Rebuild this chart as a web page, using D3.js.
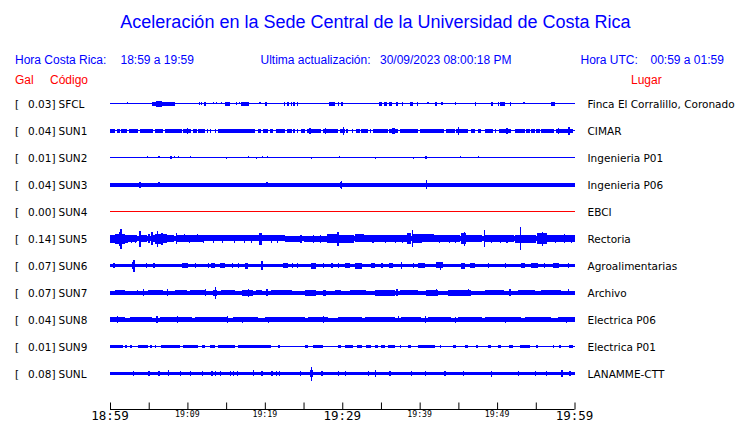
<!DOCTYPE html>
<html><head><meta charset="utf-8">
<script src="https://cdn.jsdelivr.net/npm/d3@7"></script>
<style>html,body{margin:0;padding:0;background:#fff}svg{display:block}</style>
</head><body><svg id="c" width="740" height="423"></svg>
<script>
// ---------------- DATA ----------------
const title = "Aceleración en la Sede Central de la Universidad de Costa Rica";
const localWindow = "18:59 a 19:59";
const utcWindow = "00:59 a 01:59";
const lastUpdate = "30/09/2023 08:00:18 PM";

const codes = ["SFCL","SUN1","SUN2","SUN3","SUN4","SUN5","SUN6","SUN7","SUN8","SUN9","SUNL"];
const peakGal = [0.03,0.04,0.01,0.04,0.00,0.14,0.07,0.07,0.04,0.01,0.08];
const places = ["Finca El Corralillo, Coronado","CIMAR","Ingenieria P01","Ingenieria P06","EBCI","Rectoria",
  "Agroalimentarias","Archivo","Electrica P06","Electrica P01","LANAMME-CTT"];

// background noise half-amplitude of each trace (relative units)
const baseAmp = [0.5,0.5,0.5,2,0.5,2.5,1.5,2,2,0.5,1.5];

// bursts: [start minute, end minute, half-amplitude]
const evSFCL = [[2.2,2.35,1.2],[5.4,6.0,2],[6.0,6.7,3],[6.7,8.4,2],[11.5,11.65,1.5],[11.7,11.85,1.5],[12.1,12.4,2],[13.3,13.45,1.2],[13.7,13.85,1.2],[14.3,14.45,1.2],[14.8,15.5,2],[16.3,16.45,1.5],[16.6,16.75,1.2],[16.9,17.9,2],[19.3,19.45,1.2],[20.0,20.3,2],[22.5,22.65,2],[22.8,23.1,2],[23.4,23.55,2],[23.7,23.85,2],[24.1,24.25,2],[28.3,29.0,2],[29.4,29.55,2],[29.9,30.05,2],[34.8,35.1,2],[35.4,35.8,2],[36.1,36.4,2],[36.9,37.2,2],[37.7,37.85,2],[38.7,39.1,2],[39.6,39.75,2],[41.0,41.15,1.2],[42.0,42.2,2],[42.8,42.95,1.5],[44.6,44.75,1.5],[47.1,47.3,2],[49.2,49.5,2],[50.1,50.25,2],[50.4,51.0,2],[51.7,51.85,2],[53.4,53.55,1.2],[57.0,57.5,2]];
const evSUN1 = [[0,0.65,2],[0.86,1.3,2],[1.4,2.15,2],[2.4,3.65,2],[3.9,5.6,2],[5.8,6.9,2],[7.1,9.25,2],[9.45,10.5,2],[10.75,11.2,2],[11.4,12.25,2],[12.5,12.7,2],[12.9,13.1,2],[13.55,13.75,2],[14,18.7,2],[19.15,19.55,2],[19.8,20.4,2],[20.65,21.1,2],[21.5,22.6,2],[22.9,23.45,2],[23.65,23.85,2],[24.1,24.3,2],[24.7,25.15,2],[25.4,27.3,2],[27.5,29.45,2],[29.7,30.3,2],[30.5,30.75,2],[31.2,31.4,2],[31.8,32.25,2],[32.45,33.3,2],[33.55,33.75,2],[34,35.9,2],[36.1,37.2,2],[37.4,39.8,2],[40,43.2,2],[43.45,44.5,2],[44.7,46.25,2],[46.65,47.1,2],[47.5,47.95,2],[48.4,49.45,2],[49.7,49.9,2],[50.3,51.8,2],[52.25,53.55,2],[53.75,54.2,2],[54.4,54.85,2],[55.05,55.5,2],[55.7,57.4,2],[57.65,59.8,2],
  [9.9,10.05,3],[25.7,26.0,3],[27.75,27.9,3],[30.1,30.25,4],[36.45,36.8,3],[44.95,45.1,4],[51.2,51.35,3],[57.85,58.0,3],[59.2,59.4,4]];
const evSUN2 = [[4.8,4.95,1.2],[6.25,6.4,1.2],[7.75,7.95,1.5],[8.3,8.45,1.2],[8.8,8.95,1.2],[10.3,10.45,1.2],[14.97,15.1,1],[17.85,18.0,1.2],[18.8,18.95,1],[19.65,19.8,1.2],[20.3,20.45,1.2],[26.0,26.15,1],[29.6,29.75,1.2],[34.2,34.35,1],[39.15,39.3,1],[40.7,40.95,1.5],[45.25,45.4,1.2],[47.5,47.65,1.2]];
const evSUN3 = [[3.8,3.95,3],[6.25,6.4,2.5],[20.2,20.35,2.5],[29.7,30.0,3],[29.8,29.95,4],[40.8,40.95,4.5]];
const evSUN4 = [];
const evSUN5 = [[0,0.6,4],[0.6,1.2,5],[1.2,1.4,7],[1.35,1.5,10],[1.5,2.0,5],[2.0,2.3,4],[2.3,3.5,3.3],[2.7,2.85,4],[3.2,3.35,4],[3.8,3.95,8],[3.9,4.8,3.5],[4.9,5.2,4.5],[5.35,5.5,6.5],[5.5,5.8,3.5],[5.8,6.1,5],[6.1,6.25,8],[6.2,6.6,5],[6.6,6.8,6],[6.8,7.3,4.5],[7.3,8.3,3.3],[8.5,8.65,5.5],[8.6,12.2,3.4],[9.5,9.65,4.2],[10.2,10.35,4],[11.2,11.35,4.2],[12.0,12.15,4],[12.2,19.2,3.1],[13.3,13.45,4],[14.5,14.65,4],[16.0,16.15,4],[17.3,17.45,4],[18.2,18.35,4],[19.3,19.6,6],[19.6,22.6,3.2],[20.8,20.95,4],[21.6,21.75,3.8],[22.6,24.5,2.8],[24.6,24.8,4],[25,28,3],[26.2,26.35,4],[27.1,27.25,3.8],[28,29.5,4.5],[29.3,29.6,7],[29.6,31.5,4],[31.6,32.8,4.2],[32.8,38.3,3.3],[33.9,34.05,4],[35.5,35.65,4],[36.8,36.95,4],[37.7,37.85,4],[38.3,38.9,5.5],[38.95,39.1,8.5],[39.1,40.3,4.5],[40.3,41.8,4.2],[41.8,45.2,3.3],[42.5,42.65,4],[43.8,43.95,4],[44.6,44.75,4],[45.3,46.0,5.5],[45.7,45.85,7],[46.0,48.0,3.3],[48.3,48.45,8.5],[48.4,52.2,3.3],[49.2,49.35,4],[50.4,50.55,4],[51.2,51.35,3.8],[52.3,53.0,4],[53.0,53.15,11.5],[53.1,55.0,4],[55.2,56.5,5.5],[55.8,55.95,7],[56.5,60,3.3],[57.5,57.65,4],[58.6,58.75,4.5],[59.5,59.65,4]];
const evSUN6 = [[0.45,0.65,2.5],[2.8,2.95,3.5],[3.0,3.2,6],[4.6,4.75,2.5],[5.6,5.8,2.5],[9.25,10.1,2.5],[10.95,11.1,2.5],[12.7,12.85,2.5],[13.1,13.55,2.5],[14.2,14.85,2.5],[15.7,15.9,2.5],[16.55,16.7,2.5],[17.4,17.85,3],[19.55,19.7,4.3],[22.35,23.0,2.5],[23.45,23.6,2.5],[24.1,24.25,2.5],[26.0,26.65,3],[27.5,27.65,2.5],[28.6,28.75,2.5],[29.45,29.6,2.5],[30.3,31.0,2.5],[31.6,32.5,3],[33.75,34.2,2.5],[35.05,35.2,2.5],[36.1,36.55,2.5],[37.6,37.75,3.5],[39.15,39.3,2.5],[39.8,40.65,2.5],[42.15,43.0,3.2],[42.6,42.75,4],[45.4,45.8,3],[46.45,47.1,2.5],[48.8,48.95,2.5],[51.0,51.15,2.5],[53.1,53.55,2.5],[54.4,55.25,2.5],[56.1,56.25,2.5],[57.2,58.05,2.5],[59.15,59.3,2.5]];
const evSUN7 = [[0.65,1.95,2.7],[3.45,3.65,2.7],[4.3,4.45,3.5],[4.95,6.9,2.7],[7.3,7.45,3.5],[8.4,9.9,2.7],[10.3,12.25,2.7],[12.25,12.4,3.5],[13.3,13.8,3],[13.5,13.65,6],[14.4,16.1,2.7],[17.0,18.5,3],[17.85,18.0,4],[18.9,19.6,2.7],[20.2,20.35,3.5],[20.85,23.45,2.7],[25.15,26.65,3],[27.5,27.95,3],[29.05,29.9,2.7],[30.95,33.1,2.7],[34.2,36.75,2.8],[37.0,37.15,3.5],[37.4,39.8,2.7],[40.85,42.35,3],[42.15,42.3,3.7],[43.65,46.65,2.8],[46.25,46.4,3.5],[48.4,50.95,2.7],[51.6,51.75,3.5],[52.7,54.85,2.7],[55.7,58.3,2.7],[59.15,59.3,3.2]];
const evSUN8 = [[0,1.95,2.5],[0.85,1.0,3.3],[2.6,5.4,2.5],[6.0,6.15,3.3],[6.45,10.55,2.5],[8.6,8.75,3.3],[10.95,15.25,2.5],[15.05,15.2,3.3],[15.9,19.15,2.5],[17.0,17.15,3],[20.0,25.15,2.5],[20.45,20.6,3],[25.6,28.2,2.5],[27.5,27.65,3.3],[29.45,32.5,2.5],[32.9,36.75,2.5],[37.2,37.35,3.2],[37.6,40.2,2.5],[40.65,40.8,3.3],[41.1,44.1,2.5],[44.5,44.65,3],[44.95,48,2.5],[48.4,53.1,2.5],[51.0,51.15,3],[53.55,57,2.5],[57.85,60,2.5],[58.9,59.05,3]];
const evSUN9 = [[0,1.7,1.4],[1.95,2.15,1.4],[2.6,2.8,1.4],[3.65,4.95,1.4],[5.15,5.4,1.4],[5.8,6.0,1.4],[6.65,9.05,1.4],[9.45,11.4,1.4],[11.85,12.25,1.4],[12.9,13.55,1.4],[14.0,16.1,1.4],[16.55,20.85,1.4],[21.7,21.95,1.4],[25.15,25.6,1.4],[26.25,27.5,1.4],[29.45,29.9,1.4],[30.3,31.4,1.4],[31.85,32.5,1.4],[33.1,33.75,1.4],[34.2,34.6,1.4],[35.05,35.5,1.4],[35.9,36.75,1.4],[37.4,37.65,1.4],[38.5,38.9,1.4],[39.8,41.95,1.4],[42.6,42.8,1.4],[44.3,44.75,1.4],[45.8,46.25,1.4],[47.3,47.5,1.4],[48.8,49.25,1.4],[50.1,50.55,1.4],[51.6,52.05,1.4],[52.9,54.2,1.4],[55.05,55.25,1.4],[57.2,57.4,1.4],[58.05,58.2,1.4],[59.35,59.8,1.4]];
const evSUNL = [[3.0,3.15,2.5],[4.95,5.15,2.5],[6.25,6.4,2.5],[7.5,7.65,3.2],[9.0,9.15,2.5],[10.3,10.45,2.5],[11.85,12.0,2.5],[13.1,13.25,2.5],[13.55,13.7,2.5],[14.2,14.35,2.5],[15.5,15.65,2.5],[15.9,16.05,2.5],[16.4,16.55,2.5],[18.5,18.65,3.2],[19.55,19.7,2.5],[20.85,21.0,2.5],[21.4,21.55,2.5],[21.8,21.95,2.5],[24.5,24.65,2.5],[25.8,26.25,3.5],[25.95,26.1,7],[27.3,27.45,2.5],[29.45,29.6,2.5],[30.3,30.45,2.5],[33.35,33.5,2.5],[34.2,34.35,3.5],[36.1,36.25,2.5],[38.9,39.05,2.5],[40.65,40.8,2.5],[43.2,43.35,2.5],[45.6,45.75,2.5],[49.25,49.4,3],[52.7,52.85,2.5],[54.85,55.0,2.5],[56.35,56.5,2.5],[58.3,58.45,3.5],[59.35,59.5,2.5]];
const events = [evSFCL,evSUN1,evSUN2,evSUN3,evSUN4,evSUN5,evSUN6,evSUN7,evSUN8,evSUN9,evSUNL];

// time axis (minutes after 18:59)
const tickMinutes = [0,5,10,15,20,25,30,35,40,45,50,55,60];
const tickLabels = ["18:59","","19:09","","19:19","","19:29","","19:39","","19:49","","19:59"];
const majorLabels = ["18:59","19:29","19:59"];

// ---------------- DRAW ----------------
const svg = d3.select("#c");
const BLUE = "#0000ff", RED = "#ff0000";
const HF = "'Liberation Sans', Arial, sans-serif";
const LF = "'DejaVu Sans', sans-serif";
const MF = "'DejaVu Sans Mono', monospace";

const x = d3.scaleLinear().domain([0, 60]).range([110, 574.5]);
const y = d3.scalePoint().domain(codes).range([103.5, 373.5]);
const amp = d3.scaleLinear().domain([0, 10]).range([0, 10]);

svg.append("text").attr("x", 375.5).attr("y", 28).attr("text-anchor", "middle")
  .attr("font-family", HF).attr("font-size", 18).attr("fill", BLUE).text(title);

const hdr = svg.append("g").attr("font-family", HF).attr("font-size", 12).attr("fill", BLUE);
hdr.append("text").attr("x", 15).attr("y", 64).text("Hora Costa Rica:");
hdr.append("text").attr("x", 120.5).attr("y", 64).text(localWindow);
hdr.append("text").attr("x", 260.5).attr("y", 64).text("Ultima actualización:");
hdr.append("text").attr("x", 380).attr("y", 64).text(lastUpdate);
hdr.append("text").attr("x", 580.5).attr("y", 64).text("Hora UTC:");
hdr.append("text").attr("x", 650.5).attr("y", 64).text(utcWindow);

const sub = svg.append("g").attr("font-family", HF).attr("font-size", 12).attr("fill", RED);
sub.append("text").attr("x", 15).attr("y", 84).text("Gal");
sub.append("text").attr("x", 50).attr("y", 84).text("Código");
sub.append("text").attr("x", 631).attr("y", 84).text("Lugar");

const rows = svg.append("g").selectAll("g").data(codes).join("g");
rows.each(function(code, i) {
  const g = d3.select(this);
  const yc = y(code);
  const col = peakGal[i] === 0 ? RED : BLUE;
  const lab = g.append("g").attr("font-family", LF).attr("font-size", 10.5).attr("fill", "#000");
  lab.append("text").attr("x", 15).attr("y", yc + 4).text("[");
  lab.append("text").attr("x", 55.5).attr("y", yc + 4).attr("text-anchor", "end").text(peakGal[i].toFixed(2) + "]");
  lab.append("text").attr("x", 58.5).attr("y", yc + 4).text(code);
  lab.append("text").attr("x", 587.5).attr("y", yc + 4).text(places[i]);

  const segs = [[0, 60, baseAmp[i]]].concat(events[i]);
  g.append("g").attr("fill", col).attr("shape-rendering", "crispEdges")
    .selectAll("rect").data(segs).join("rect")
    .attr("x", d => Math.round(x(d[0])))
    .attr("width", d => Math.max(1, Math.round(x(d[1])) - Math.round(x(d[0]))))
    .attr("y", d => Math.round(yc - amp(d[2])))
    .attr("height", d => Math.max(1, Math.round(2 * amp(d[2]))));
});

// axis
const axis = d3.axisTop(x).tickValues(tickMinutes).tickSize(7).tickFormat("");
const ax = svg.append("g").attr("transform", "translate(0,409.5)").call(axis);
ax.select(".domain").attr("stroke", "#000").attr("d", `M${x(0)},0H${x(60)}`);
ax.selectAll(".tick line").attr("stroke", "#000");
svg.append("g").selectAll("text").data(tickMinutes).join("text")
  .attr("x", d => x(d))
  .attr("y", (d, i) => majorLabels.includes(tickLabels[i]) ? 420 : 417)
  .attr("text-anchor", "middle")
  .attr("font-family", MF)
  .attr("font-size", (d, i) => majorLabels.includes(tickLabels[i]) ? 12.5 : 8.2)
  .attr("fill", "#000")
  .text((d, i) => tickLabels[i]);
</script></body></html>
